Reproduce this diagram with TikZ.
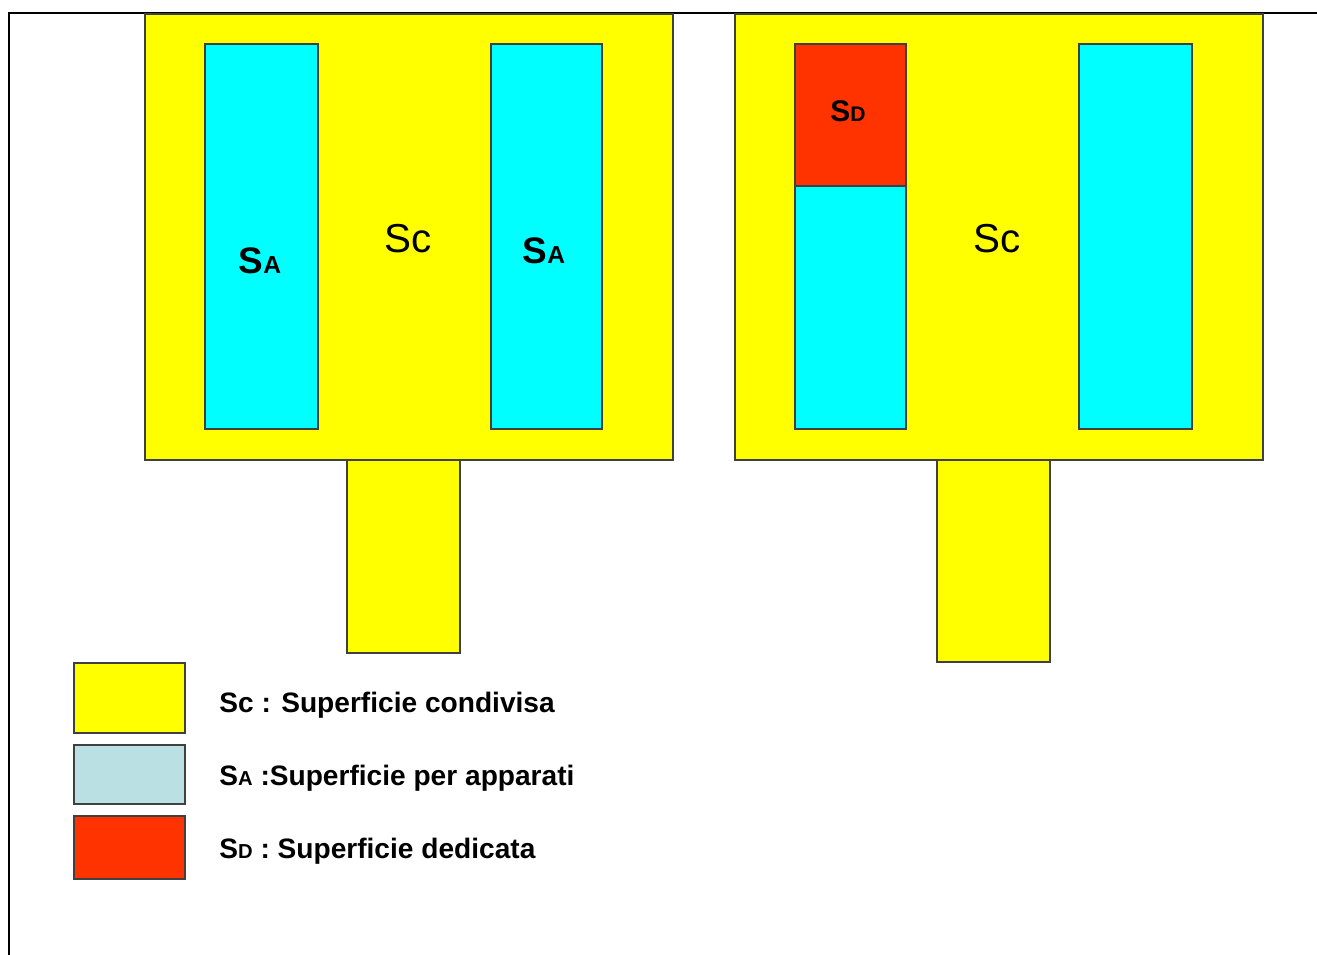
\documentclass[tikz,border=0pt]{standalone}
\usepackage{fontspec}
\setmainfont{Liberation Sans}
\usepackage{xcolor}
\usetikzlibrary{positioning}
\definecolor{shareyellow}{HTML}{FFFF00}
\definecolor{appcyan}{HTML}{00FFFF}
\definecolor{legendcyan}{HTML}{BAE0E3}
\definecolor{dedred}{HTML}{FF3300}
\newcommand{\surf}[3]{#1{\fontsize{#3}{#3}\selectfont #2}}

\begin{document}
\begin{tikzpicture}[
  x=0.02cm, y=-0.02cm,
  area/.style={draw=black!75, line width=0.6pt},
  shared/.style={area, fill=shareyellow},
  apparati/.style={area, fill=appcyan},
  dedicated/.style={area, fill=dedred},
  frame/.style={draw=black, line width=1.4pt},
  bigtag/.style={anchor=base, inner sep=0pt, font=\fontsize{23}{23}\selectfont},
  tag/.style={anchor=base, inner sep=0pt, font=\bfseries\fontsize{21}{21}\selectfont},
  legendtext/.style={anchor=base west, inner sep=0pt, font=\bfseries\fontsize{16}{16}\selectfont}
]
  \useasboundingbox (0,0) rectangle (1317,955);

  % Frame
  \draw[frame] (1317,13) -- (9,13) -- (9,955);

  % Left room
  \draw[shared] (347,460) rectangle (460,653);
  \draw[shared] (145,14) rectangle (673,460);
  \draw[apparati] (205,44) rectangle (318,429);
  \draw[apparati] (491,44) rectangle (602,429);
  \node[tag] (saleft) at (260,274) {\surf{S}{A}{14}};
  \node[bigtag] (scleft) at (408,253) {Sc};
  \node[tag] (saright) at (544,264) {\surf{S}{A}{14}};

  % Right room
  \draw[shared] (937,460) rectangle (1050,662);
  \draw[shared] (735,14) rectangle (1263,460);
  \draw[apparati] (795,186) rectangle (906,429);
  \draw[dedicated] (795,44) rectangle (906,186);
  \draw[apparati] (1079,44) rectangle (1192,429);
  \node[tag, font=\bfseries\fontsize{17}{17}\selectfont] (sd) at (848,122) {\surf{S}{D}{12}};
  \node[bigtag] (scright) at (997,253) {Sc};

  % Legend
  \draw[shared] (74,663) rectangle (185,733);
  \draw[area, fill=legendcyan] (74,745) rectangle (185,804);
  \draw[dedicated] (74,816) rectangle (185,879);
  \node[legendtext] (legsc) at (219,712) {Sc : Superficie condivisa};
  \node[legendtext] (legsa) at (219,785) {\surf{S}{A}{11.5} :Superficie per apparati};
  \node[legendtext] (legsd) at (219,858) {\surf{S}{D}{11.5} : Superficie dedicata};
\end{tikzpicture}
\end{document}
